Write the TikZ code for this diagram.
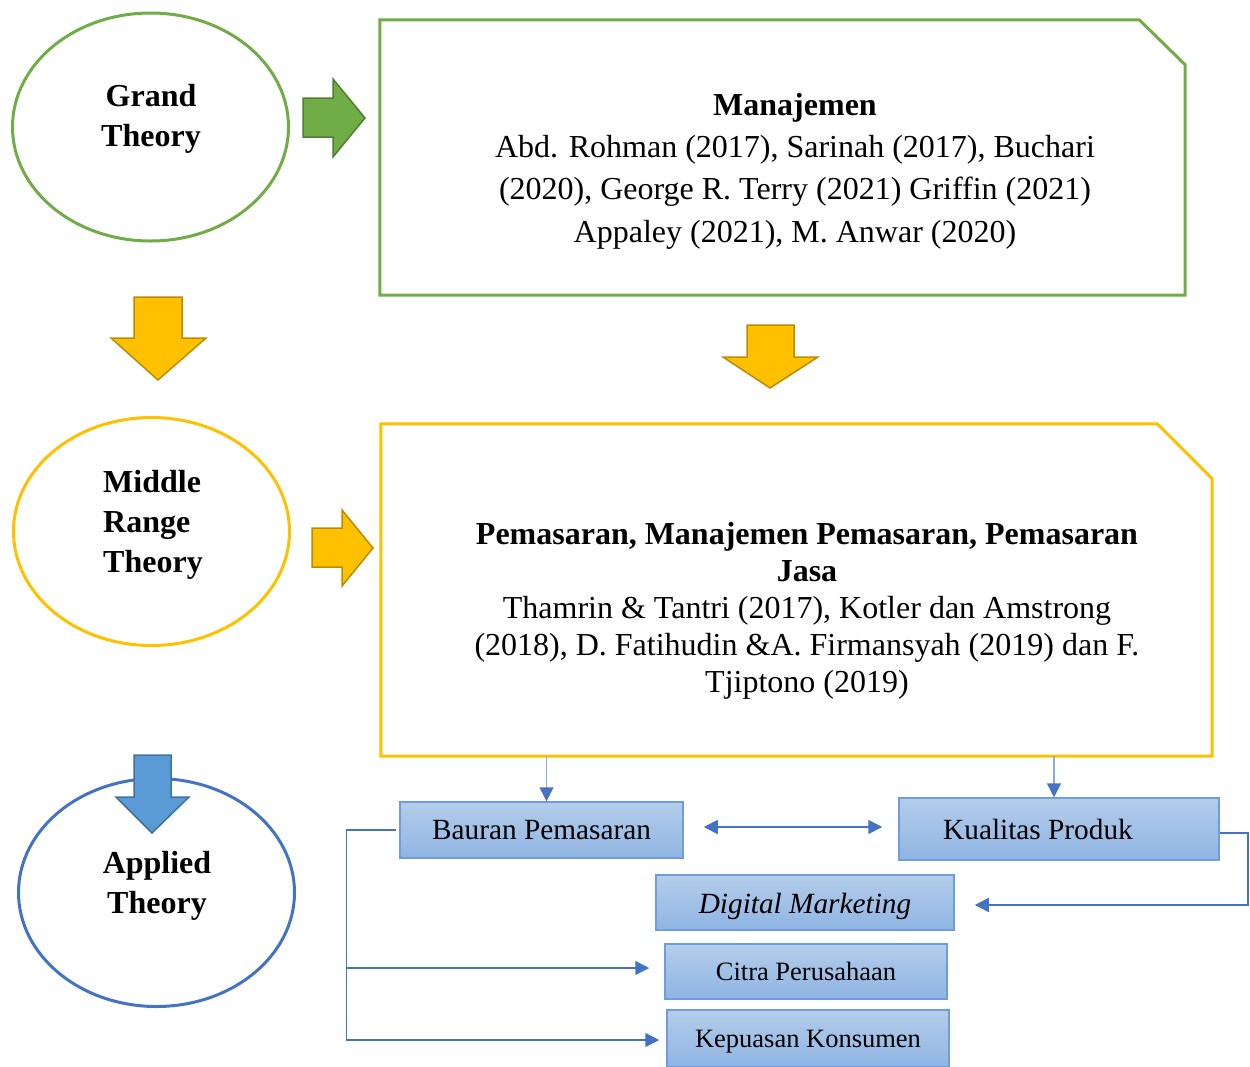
\documentclass[tikz,border=0pt]{standalone}
\usepackage{fontspec}
\setmainfont{Liberation Serif}
\usetikzlibrary{arrows.meta,calc,shapes.geometric}
\definecolor{gGreen}{HTML}{70AD47}
\definecolor{gGreenD}{HTML}{507E32}
\definecolor{gYel}{HTML}{FFC000}
\definecolor{gYelD}{HTML}{BC8C00}
\definecolor{gBlue}{HTML}{4472C4}
\definecolor{gBlueF}{HTML}{5B9BD5}
\definecolor{gBlueD}{HTML}{41719C}
\definecolor{boxTop}{HTML}{B4CDEA}
\definecolor{boxBot}{HTML}{8FB4E3}
\definecolor{boxLine}{HTML}{6D9EDB}
\definecolor{lineLight}{HTML}{8FAADC}
\begin{document}
\begin{tikzpicture}[x=1pt,y=-1pt,
  theory/.style={ellipse, draw, line width=3pt, fill=white, minimum width=276pt, minimum height=228pt, inner sep=0pt},
  theorytext/.style={inner sep=0pt, font=\fontsize{32}{40}\selectfont\bfseries},
  bigbox/.style={rectangle, inner sep=0pt},
  bigtext/.style={inner sep=0pt, align=center},
  smallbox/.style={rectangle, draw=boxLine, line width=1.5pt, top color=boxTop, bottom color=boxBot, inner sep=0pt, font=\fontsize{29.3}{34}\selectfont},
  blockarrow/.style={line width=1.5pt, line join=miter},
  tipA/.style={-{Triangle[length=14pt,width=14pt,color=gBlue,fill=gBlue]}},
  link/.style={line width=1.5pt, draw=gBlue},
  linklight/.style={line width=1.5pt, draw=lineLight}
]
\useasboundingbox (0,0) rectangle (1250,1066);

% ellipses
\node[theory, draw=gGreen] (grand) at (150.5,127) {};
\node[theory, draw=gYel] (middle) at (151.5,531.5) {};
\node[theory, draw=gBlue] (applied) at (156.5,892.5) {};
\node[theorytext, align=center] (grandT) at (151,119) {Grand\\Theory};
\node[theorytext, align=left, anchor=west] (middleT) at (103,525) {Middle\\Range\\Theory};
\node[theorytext, align=center] (appliedT) at (157,886) {Applied\\Theory};

% big boxes
\node[bigbox, minimum width=805pt, minimum height=275pt] (mgmt) at (782.5,157.5) {};
\draw[gGreen, line width=3pt, line join=miter] (mgmt.south west) -- (mgmt.north west) -- ($(mgmt.north east)+(-46,0)$) -- ($(mgmt.north east)+(0,45)$) -- (mgmt.south east) -- cycle;
\node[bigtext, font=\fontsize{32}{42.3}\selectfont] (mgmtT) at (795,171) {\textbf{Manajemen}\\Abd. Rohman (2017), Sarinah (2017), Buchari\\(2020), George R. Terry (2021) Griffin (2021)\\Appaley (2021), M. Anwar (2020)};

\node[bigbox, minimum width=831pt, minimum height=332pt] (mkt) at (796.5,590) {};
\draw[gYel, line width=3pt, line join=miter] (mkt.south west) -- (mkt.north west) -- ($(mkt.north east)+(-55,0)$) -- ($(mkt.north east)+(0,55)$) -- (mkt.south east) -- cycle;
\node[bigtext, font=\fontsize{32}{37}\selectfont] (mktT) at (807,611) {\textbf{Pemasaran, Manajemen Pemasaran, Pemasaran}\\\textbf{Jasa}\\Thamrin \& Tantri (2017), Kotler dan Amstrong\\(2018), D. Fatihudin \&A. Firmansyah (2019) dan F.\\Tjiptono (2019)};

% block arrows
\draw[blockarrow, fill=gGreen, draw=gGreenD] (303,98) -- (333,98) -- (333,79) -- (365,118) -- (333,157) -- (333,137) -- (303,137) -- cycle;
\draw[blockarrow, fill=gYel, draw=gYelD] (134,297) -- (182,297) -- (182,338) -- (206,338) -- (158,380) -- (111,338) -- (134,338) -- cycle;
\draw[blockarrow, fill=gYel, draw=gYelD] (747,325) -- (794,325) -- (794,357) -- (818,357) -- (770,388) -- (723,357) -- (747,357) -- cycle;
\draw[blockarrow, fill=gYel, draw=gYelD] (312,528) -- (342,528) -- (342,510) -- (373,548) -- (342,586) -- (342,567) -- (312,567) -- cycle;
\draw[blockarrow, fill=gBlueF, draw=gBlueD] (134,755) -- (171,755) -- (171,797) -- (189,797) -- (152,833) -- (116,797) -- (134,797) -- cycle;

% small boxes
\node[smallbox, minimum width=283pt, minimum height=56pt] (bauran) at (541.5,830) {Bauran Pemasaran};
\node[smallbox, minimum width=320pt, minimum height=62pt] (kualitas) at (1059,829) {Kualitas Produk\hspace*{42pt}\null};
\node[smallbox, minimum width=298pt, minimum height=55pt] (digital) at (805,902.5) {\raisebox{-4pt}[\height][\depth]{\itshape Digital Marketing}};
\node[smallbox, minimum width=282pt, minimum height=55pt, font=\fontsize{26.5}{32}\selectfont] (citra) at (806,971.5) {Citra Perusahaan};
\node[smallbox, minimum width=282pt, minimum height=57pt, font=\fontsize{26.5}{32}\selectfont] (kepuasan) at (808,1038.5) {\raisebox{-3pt}[\height][\depth]{Kepuasan Konsumen}};

% connectors
\draw[linklight, tipA] ([xshift=5]bauran.north |- mkt.south) -- ([xshift=5]bauran.north);
\draw[linklight, tipA] ([xshift=-5]kualitas.north |- mkt.south) -- ([xshift=-5]kualitas.north);
\draw[link, {Triangle[length=14pt,width=14pt,color=gBlue,fill=gBlue]}-{Triangle[length=14pt,width=14pt,color=gBlue,fill=gBlue]}, shorten <=20pt, shorten >=16pt] ([yshift=3]bauran.east) -- ([yshift=2]kualitas.west);
\draw[link, tipA, shorten >=20pt] ([yshift=-4]kualitas.east) -- ++(28,0) |- ([yshift=-2.5]digital.east);
\coordinate (jL) at ($(bauran.west)+(-53,0)$);
\draw[link, tipA, shorten <=3pt, shorten >=7pt] (bauran.west) -- (jL) |- ([yshift=-1.5]kepuasan.west);
\draw[link, tipA, shorten >=15pt] ([yshift=3.5]jL |- citra.west) -- ([yshift=3.5]citra.west);
\end{tikzpicture}
\end{document}
